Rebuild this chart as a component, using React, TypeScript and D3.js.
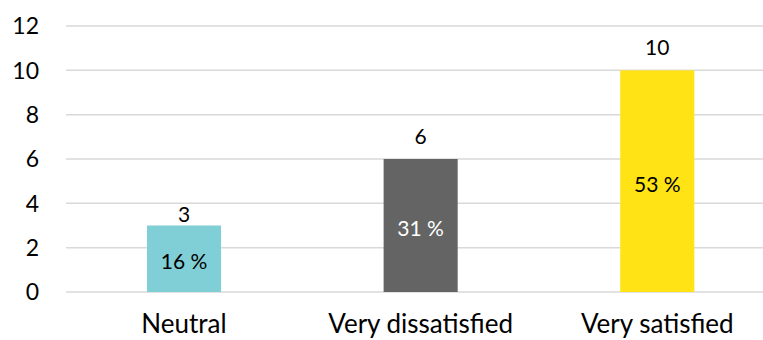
import React from "react";
import * as d3 from "d3";

const categories = ["Neutral", "Very dissatisfied", "Very satisfied"];
const counts = [3, 6, 10];
const percents = ["16 %", "31 %", "53 %"];
const colors = ["#80CFD6", "#646464", "#FFE314"];
const pctColors = ["#000000", "#FFFFFF", "#000000"];
const yTicks = [0, 2, 4, 6, 8, 10, 12];

const W = 763;
const H = 340;
const FONT = "Lato, 'Open Sans', sans-serif";

export default function App() {
  const x = d3.scaleBand<string>().domain(categories).range([65.7, 775.6]).paddingInner(0.687).paddingOuter(0.3435);
  const y = d3.scaleLinear().domain([0, 12]).range([292, 26]);
  const bw = x.bandwidth();
  return (
    <svg width={W} height={H} style={{ position: "absolute", left: 0, top: 0, background: "#fff" }}>
      {yTicks.map((t) => (
        <g key={t}>
          <line x1={66} x2={W} y1={y(t)} y2={y(t)} stroke="#D9D9D9" strokeWidth={1.5} />
          <text x={39} y={y(t)} dy="0.36em" textAnchor="end" fontFamily={FONT} fontSize={23} fill="#000">
            {t}
          </text>
        </g>
      ))}
      {categories.map((c, i) => {
        const bx = x(c)!;
        const top = y(counts[i]);
        const base = y(0);
        return (
          <g key={c}>
            <rect x={bx} y={top} width={bw} height={base - top} fill={colors[i]} />
            <text x={bx + bw / 2} y={top - (i === 0 ? 4 : 15)} textAnchor="middle" fontFamily={FONT} fontSize={21} fill="#000">
              {counts[i]}
            </text>
            <text x={bx + bw / 2} y={(top + base) / 2 + 3} dy="0.36em" textAnchor="middle" fontFamily={FONT} fontSize={21} fill={pctColors[i]}>
              {percents[i]}
            </text>
            <text x={bx + bw / 2} y={333} textAnchor="middle" fontFamily={FONT} fontSize={26} fill="#000">
              {c}
            </text>
          </g>
        );
      })}
    </svg>
  );
}
